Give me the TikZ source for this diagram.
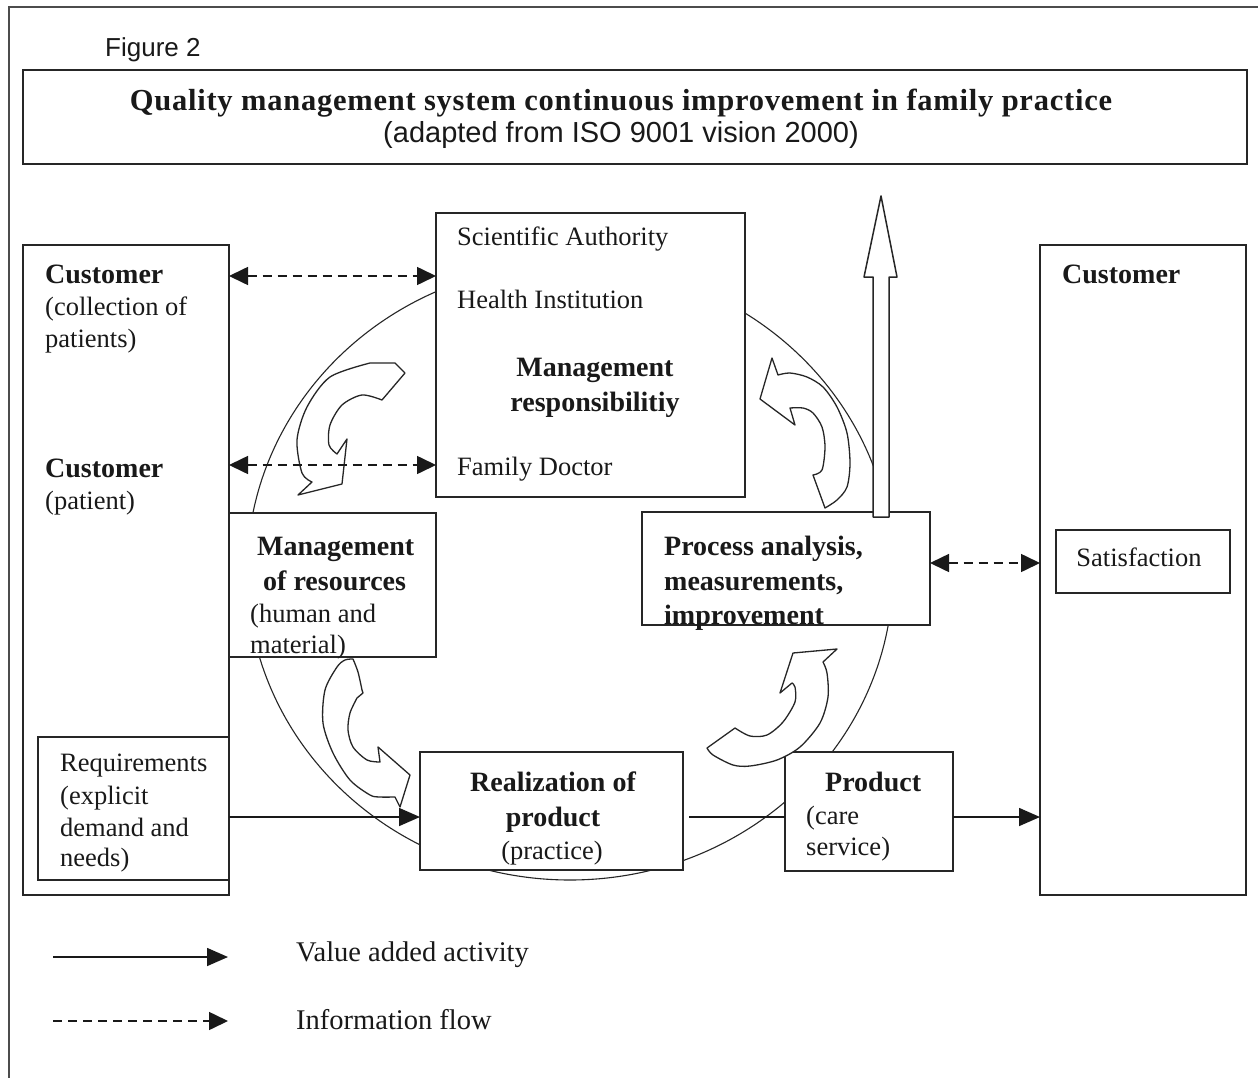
\documentclass[tikz,border=0pt]{standalone}
\usepackage{fontspec}
\setmainfont{Liberation Serif}
\newfontfamily\figsans{Liberation Sans}
\newfontfamily\titleserif[LetterSpace=2.5]{Liberation Serif}
\usetikzlibrary{arrows.meta}
\newcommand\txtreg{\fontsize{26.5}{32}\selectfont}
\newcommand\txtbold{\fontsize{28}{34}\selectfont\bfseries}
\begin{document}
\begin{tikzpicture}[x=1pt,y=-1pt,
  box/.style={draw=black!85, line width=1.8pt, fill=white, rectangle, inner sep=0pt, outer sep=0pt},
  txt/.style={inner sep=0pt, anchor=base west, text=black!90},
  ctxt/.style={inner sep=0pt, anchor=base, text=black!90},
  valueflow/.style={draw=black!90, line width=1.6pt, -{Triangle[length=21pt,width=18pt]}},
  plainflow/.style={draw=black!90, line width=1.6pt},
  infoflow/.style={draw=black!90, line width=1.6pt, dash pattern=on 9pt off 6pt,
    {Triangle[length=19pt,width=18pt]}-{Triangle[length=19pt,width=18pt]}},
  infolegend/.style={draw=black!90, line width=1.6pt, dash pattern=on 9pt off 6pt,
    -{Triangle[length=19pt,width=18pt]}},
  blockarrow/.style={draw=black!85, fill=white, line width=1.3pt, line join=round},
  cycleline/.style={draw=black!85, line width=1.1pt}
]
\useasboundingbox (0,0) rectangle (1258,1078);
\fill[white] (0,0) rectangle (1258,1078);

% outer frame
\draw[black!70, line width=2pt] (9,1078) -- (9,7) -- (1258,7);

% caption and title
\node[txt, font=\figsans\fontsize{26}{30}\selectfont] (figlabel) at (105,57) {Figure 2};
\node[box, minimum width=1224, minimum height=94] (title) at (635,117) {};
\node[ctxt, font=\titleserif\fontsize{30.5}{36}\selectfont\bfseries] (titletext) at (621,111)
  {Quality management system continuous improvement in family practice};
\node[ctxt, font=\figsans\fontsize{29}{34}\selectfont] (subtitle) at (621,143)
  {(adapted from ISO 9001 vision 2000)};

% improvement cycle
\draw[cycleline] (570,572) ellipse [x radius=323pt, y radius=308pt];

% boxes
\node[box, minimum width=206, minimum height=650] (leftcust) at (126,570) {};
\node[box, minimum width=191, minimum height=143] (req) at (133.5,808.5) {};
\node[box, minimum width=309, minimum height=284] (mgmt) at (590.5,355) {};
\node[box, minimum width=207, minimum height=144] (res) at (332.5,585) {};
\node[box, minimum width=288, minimum height=113] (proc) at (786,568.5) {};
\node[box, minimum width=263, minimum height=118] (real) at (551.5,811) {};
\node[box, minimum width=168, minimum height=119] (prod) at (869,811.5) {};
\node[box, minimum width=206, minimum height=650] (rightcust) at (1143,570) {};
\node[box, minimum width=174, minimum height=63] (satis) at (1143,561.5) {};

% upward improvement arrow
\filldraw[blockarrow, line width=1.5pt] (873,517) -- (873,277) -- (864,277) -- (881,196)
  -- (897,277) -- (889,277) -- (889,517) -- cycle;

% curved cycle arrows
\filldraw[blockarrow] (370,363) -- (395,363) -- (405,373) -- (382,400)
  -- plot[smooth] coordinates {(382,400) (362,395) (342,405) (330,425) (329,445) (337,454)}
  -- (347,439) -- (342,484) -- (298,495) -- (312,482)
  -- plot[smooth] coordinates {(312,482) (302,473) (297,440) (307,407) (330,377) (370,363)}
  -- cycle;
\filldraw[blockarrow] (353,659)
  -- plot[smooth] coordinates {(353,659) (358,672) (362,690)} -- (363,693)
  -- plot[smooth] coordinates {(357,698) (350,713) (348,730) (353,747) (367,760) (380,762)}
  -- (378,747) -- (410,775) -- (400,807) -- (395,797)
  -- plot[smooth] coordinates {(395,797) (380,797) (370,795) (350,780) (333,753) (323,723) (325,690) (337,667) (345,660) (353,659)}
  -- cycle;
\filldraw[blockarrow] (707,748) -- (735,728)
  -- plot[smooth] coordinates {(735,728) (750,736) (767,735) (783,722) (795,702) (795,687) (792,683)}
  -- (780,693) -- (793,653) -- (837,649) -- (823,662)
  -- plot[smooth] coordinates {(823,662) (827,673) (828,697) (820,723) (800,747) (777,760) (750,766) (733,765) (713,755) (707,748)}
  -- cycle;
\filldraw[blockarrow] (772,358) -- (778,375)
  -- plot[smooth] coordinates {(778,375) (790,373) (807,377) (823,387) (837,407) (847,433) (850,463) (847,487) (837,500) (825,508)}
  -- (813,475)
  -- plot[smooth] coordinates {(813,475) (822,470) (825,447) (822,427) (813,413) (803,408) (790,408)}
  -- (795,425) -- (760,399) -- cycle;

% connector levels
\coordinate (lvlA) at (0,276);
\coordinate (lvlB) at (0,465);
\coordinate (lvlC) at (0,563);
\coordinate (lvlD) at (0,817);

% information flows
\draw[infoflow] (leftcust.east |- lvlA) -- (mgmt.west |- lvlA);
\draw[infoflow] (leftcust.east |- lvlB) -- (mgmt.west |- lvlB);
\draw[infoflow] (proc.east |- lvlC) -- (rightcust.west |- lvlC);

% value added activities
\draw[valueflow] (req.east |- lvlD) -- (real.west |- lvlD);
\draw[plainflow, shorten <=6pt] (real.east |- lvlD) -- (prod.west |- lvlD);
\draw[valueflow] (prod.east |- lvlD) -- (rightcust.west |- lvlD);

% texts: left customer
\node[txt, font=\txtbold] (c1) at (45,283) {Customer};
\node[txt, font=\txtreg] (c1a) at (45,315) {(collection of};
\node[txt, font=\txtreg] (c1b) at (45,347) {patients)};
\node[txt, font=\txtbold] (c2) at (45,477) {Customer};
\node[txt, font=\txtreg] (c2a) at (45,509) {(patient)};
\node[txt, font=\txtreg] (r1) at (60,771) {Requirements};
\node[txt, font=\txtreg] (r2) at (60,804) {(explicit};
\node[txt, font=\txtreg] (r3) at (60,836) {demand and};
\node[txt, font=\txtreg] (r4) at (60,866) {needs)};

% management responsibility
\node[txt, font=\txtreg] (m1) at (457,245) {Scientific Authority};
\node[txt, font=\txtreg] (m2) at (457,308) {Health Institution};
\node[ctxt, font=\txtbold] (m3) at (595,376) {Management};
\node[ctxt, font=\txtbold] (m4) at (595,411) {responsibilitiy};
\node[txt, font=\txtreg] (m5) at (457,475) {Family Doctor};

% resources
\node[txt, font=\txtbold] (s1) at (257,555) {Management};
\node[txt, font=\txtbold] (s2) at (263,590) {of resources};
\node[txt, font=\txtreg] (s3) at (250,622) {(human and};
\node[txt, font=\txtreg] (s4) at (250,653) {material)};

% process analysis
\node[txt, font=\txtbold] (p1) at (664,555) {Process analysis,};
\node[txt, font=\txtbold] (p2) at (664,590) {measurements,};
\node[txt, font=\txtbold] (p3) at (664,624) {improvement};

% realization and product
\node[ctxt, font=\txtbold] (q1) at (553,791) {Realization of};
\node[ctxt, font=\txtbold] (q2) at (553,826) {product};
\node[ctxt, font=\txtreg] (q3) at (552,859) {(practice)};
\node[txt, font=\txtbold] (d1) at (825,791) {Product};
\node[txt, font=\txtreg] (d2) at (806,824) {(care};
\node[txt, font=\txtreg] (d3) at (806,855) {service)};

% right customer
\node[txt, font=\txtbold] (c3) at (1062,283) {Customer};
\node[ctxt, font=\txtreg] (sat) at (1139,566) {Satisfaction};

% legend
\coordinate (lgA0) at (53,957);
\coordinate (lgA1) at (228,957);
\coordinate (lgB0) at (53,1021);
\coordinate (lgB1) at (228,1021);
\draw[valueflow] (lgA0) -- (lgA1);
\draw[infolegend] (lgB0) -- (lgB1);
\node[txt, font=\fontsize{28.5}{32}\selectfont] (lg1) at (296,961) {Value added activity};
\node[txt, font=\fontsize{28.5}{32}\selectfont] (lg2) at (296,1029) {Information flow};
\end{tikzpicture}
\end{document}
